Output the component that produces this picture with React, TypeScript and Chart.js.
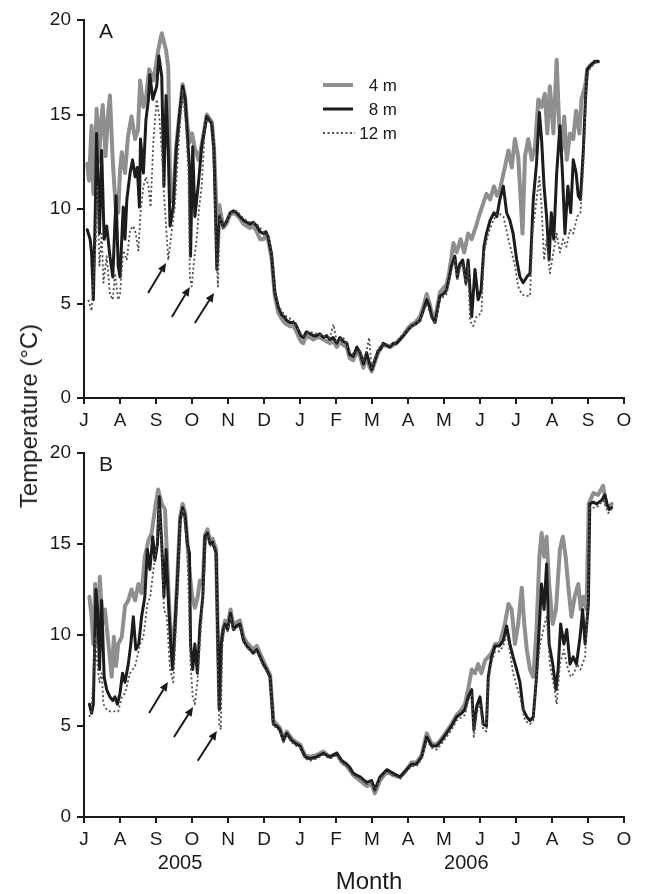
import React, { useEffect, useRef } from "react";
import { Chart, registerables } from "chart.js";

Chart.register(...registerables);

const FONT = "'Liberation Sans', Arial, Helvetica, sans-serif";
const INK = "#1a1a1a";

// x = months since 1 July 2005
const monthLabels = ["J", "A", "S", "O", "N", "D", "J", "F", "M", "A", "M", "J", "J", "A", "S", "O"];
const yTickStep = 5;
const seriesNames = ["4 m", "8 m", "12 m"];
const yearLabels = ["2005", "2006"];
const yearPositions = [2.67, 10.62];

// Panel A
const a4m: number[][] = [
  [0.09, 12.4], [0.14, 11.5], [0.21, 14.4], [0.26, 10.8], [0.3, 12.2], [0.35, 15.3], [0.42, 12.5], [0.47, 14.6],
  [0.52, 15.5], [0.6, 12.8], [0.66, 14.8], [0.72, 16.0], [0.8, 12.5], [0.88, 10.1], [0.95, 9.8], [1.0, 12.0],
  [1.05, 13.0], [1.14, 11.9], [1.22, 13.8], [1.32, 14.9], [1.42, 13.7], [1.5, 14.2], [1.56, 16.8], [1.65, 15.4],
  [1.73, 16.0], [1.81, 17.4], [1.92, 16.8], [2.0, 17.6], [2.06, 18.4], [2.16, 19.3], [2.28, 18.4], [2.34, 17.5],
  [2.4, 10.4], [2.48, 10.6], [2.56, 13.3], [2.65, 15.0], [2.74, 16.6], [2.81, 15.9], [2.87, 14.4], [2.93, 13.5],
  [3.0, 14.0], [3.08, 13.2], [3.18, 12.6], [3.27, 13.4], [3.41, 15.0], [3.55, 14.6], [3.61, 13.3], [3.69, 9.5],
  [3.76, 10.2], [3.87, 9.0], [3.95, 9.2], [4.06, 9.7], [4.15, 9.8], [4.24, 9.7], [4.33, 9.5], [4.43, 9.2],
  [4.52, 9.1], [4.61, 9.0], [4.7, 9.1], [4.8, 8.8], [4.89, 8.4], [4.98, 8.4], [5.05, 8.6], [5.12, 8.3],
  [5.21, 7.4], [5.3, 5.4], [5.4, 4.5], [5.49, 4.2], [5.56, 4.0], [5.63, 3.9], [5.72, 3.8], [5.81, 3.8],
  [5.88, 3.6], [5.95, 3.3], [6.02, 3.0], [6.09, 2.9], [6.18, 3.3], [6.28, 3.2], [6.37, 3.1], [6.46, 3.2],
  [6.55, 3.2], [6.65, 3.1], [6.74, 3.0], [6.83, 2.9], [6.92, 3.0], [7.02, 2.7], [7.11, 3.0], [7.2, 2.8],
  [7.3, 2.7], [7.38, 2.1], [7.48, 2.0], [7.58, 2.5], [7.67, 2.2], [7.76, 1.6], [7.85, 2.2], [7.92, 1.7],
  [7.99, 1.4], [8.08, 1.9], [8.17, 2.4], [8.31, 2.8], [8.5, 2.7], [8.68, 2.9], [8.87, 3.3], [9.0, 3.7],
  [9.1, 3.9], [9.2, 4.0], [9.33, 4.3], [9.42, 4.8], [9.52, 5.5], [9.6, 5.0], [9.66, 4.5], [9.75, 4.2],
  [9.89, 5.6], [9.98, 5.8], [10.07, 6.0], [10.14, 6.6], [10.21, 7.5], [10.26, 8.2], [10.35, 7.7], [10.46, 8.4],
  [10.56, 7.7], [10.67, 8.7], [10.77, 8.4], [10.89, 9.1], [11.0, 9.8], [11.09, 10.3], [11.18, 10.8], [11.28, 10.5],
  [11.39, 11.2], [11.47, 10.7], [11.55, 11.0], [11.69, 12.2], [11.79, 13.1], [11.88, 12.2], [11.97, 13.7], [12.06, 12.8],
  [12.11, 11.2], [12.18, 8.7], [12.25, 12.8], [12.34, 13.7], [12.44, 12.6], [12.53, 13.3], [12.62, 15.8], [12.71, 15.4],
  [12.8, 16.1], [12.87, 14.0], [12.94, 16.5], [13.04, 14.0], [13.13, 17.9], [13.2, 14.4], [13.27, 13.1], [13.34, 14.9],
  [13.41, 12.6], [13.5, 14.0], [13.59, 13.7], [13.67, 15.2], [13.76, 14.0], [13.82, 15.8], [13.92, 16.5], [13.98, 17.4],
  [14.07, 17.6], [14.19, 17.8], [14.28, 17.8],
];

const a8m: number[][] = [
  [0.09, 8.9], [0.17, 8.4], [0.21, 7.7], [0.26, 5.2], [0.31, 9.6], [0.35, 14.0], [0.43, 8.7], [0.49, 13.1],
  [0.56, 8.4], [0.63, 9.1], [0.72, 7.5], [0.8, 6.4], [0.89, 10.7], [0.95, 7.0], [1.0, 6.4], [1.09, 10.1],
  [1.14, 8.4], [1.19, 10.5], [1.28, 11.9], [1.35, 12.6], [1.42, 11.7], [1.48, 12.2], [1.54, 10.1], [1.57, 13.7],
  [1.65, 11.9], [1.72, 14.7], [1.79, 15.8], [1.83, 17.1], [1.91, 15.8], [2.02, 16.5], [2.08, 18.1], [2.16, 17.0],
  [2.22, 11.2], [2.28, 16.0], [2.34, 13.1], [2.39, 9.1], [2.48, 10.1], [2.56, 13.1], [2.65, 14.9], [2.74, 16.5],
  [2.81, 15.8], [2.87, 14.0], [2.93, 12.2], [2.96, 7.5], [3.02, 13.3], [3.08, 9.6], [3.18, 11.4], [3.27, 13.3],
  [3.41, 14.9], [3.55, 14.5], [3.61, 13.1], [3.69, 6.8], [3.76, 9.6], [3.87, 9.1], [3.95, 9.3], [4.06, 9.8],
  [4.15, 9.9], [4.24, 9.8], [4.33, 9.6], [4.43, 9.4], [4.52, 9.3], [4.61, 9.2], [4.7, 9.3], [4.8, 9.1],
  [4.89, 8.8], [4.98, 8.7], [5.05, 8.8], [5.12, 8.5], [5.21, 7.6], [5.3, 5.6], [5.4, 4.8], [5.49, 4.4],
  [5.56, 4.3], [5.63, 4.1], [5.72, 4.0], [5.81, 4.0], [5.88, 3.9], [5.95, 3.6], [6.02, 3.3], [6.09, 3.2],
  [6.18, 3.5], [6.28, 3.4], [6.37, 3.3], [6.46, 3.3], [6.55, 3.4], [6.65, 3.2], [6.74, 3.3], [6.83, 3.1],
  [6.92, 3.2], [7.02, 2.9], [7.11, 3.2], [7.2, 3.0], [7.3, 2.9], [7.38, 2.3], [7.48, 2.2], [7.58, 2.7],
  [7.67, 2.4], [7.76, 1.8], [7.85, 2.4], [7.92, 1.9], [7.99, 1.5], [8.08, 2.0], [8.17, 2.5], [8.24, 2.6],
  [8.31, 2.9], [8.4, 2.8], [8.5, 2.7], [8.59, 2.9], [8.68, 2.9], [8.78, 3.1], [8.87, 3.3], [9.0, 3.6],
  [9.1, 3.8], [9.2, 3.9], [9.33, 4.1], [9.42, 4.6], [9.52, 5.2], [9.6, 4.8], [9.66, 4.3], [9.75, 4.0],
  [9.89, 5.4], [9.98, 5.5], [10.07, 5.7], [10.14, 6.3], [10.21, 7.0], [10.3, 7.5], [10.37, 6.4], [10.44, 7.1],
  [10.52, 7.3], [10.61, 6.1], [10.67, 7.3], [10.77, 4.3], [10.86, 6.8], [10.95, 5.2], [11.03, 5.7], [11.11, 8.0],
  [11.18, 8.7], [11.28, 9.4], [11.39, 9.8], [11.47, 9.6], [11.55, 10.5], [11.65, 11.2], [11.74, 9.8], [11.83, 9.4],
  [11.92, 8.7], [12.02, 7.3], [12.11, 6.4], [12.2, 6.1], [12.3, 6.4], [12.39, 6.6], [12.48, 10.5], [12.57, 12.4],
  [12.65, 15.1], [12.71, 13.7], [12.78, 11.2], [12.85, 9.6], [12.92, 7.3], [12.98, 9.8], [13.05, 8.4], [13.13, 11.9],
  [13.22, 14.4], [13.29, 11.9], [13.36, 8.7], [13.44, 11.2], [13.52, 9.8], [13.59, 12.6], [13.67, 11.9], [13.73, 10.7],
  [13.79, 10.5], [13.87, 13.1], [13.93, 15.8], [13.98, 17.4], [14.07, 17.6], [14.19, 17.8], [14.28, 17.8],
];

const a12m: number[][] = [
  [0.12, 5.2], [0.21, 4.6], [0.27, 6.5], [0.33, 8.4], [0.37, 11.2], [0.43, 7.0], [0.49, 8.7], [0.54, 6.1],
  [0.63, 7.5], [0.72, 5.5], [0.8, 5.2], [0.86, 6.6], [0.95, 5.2], [1.0, 5.5], [1.09, 7.8], [1.19, 7.3],
  [1.28, 8.9], [1.37, 9.1], [1.44, 8.7], [1.51, 7.8], [1.57, 9.8], [1.65, 11.2], [1.72, 11.7], [1.79, 11.2],
  [1.85, 10.1], [1.93, 13.7], [2.02, 15.8], [2.09, 14.9], [2.16, 13.1], [2.22, 10.8], [2.28, 9.1], [2.34, 7.3],
  [2.43, 8.7], [2.52, 10.1], [2.65, 14.0], [2.74, 16.3], [2.83, 14.4], [2.9, 11.9], [2.94, 6.4], [2.99, 5.9],
  [3.06, 7.3], [3.13, 8.4], [3.2, 10.1], [3.27, 11.2], [3.36, 14.4], [3.45, 14.9], [3.59, 14.4], [3.66, 8.7],
  [3.72, 5.9], [3.78, 9.8], [3.87, 9.0], [3.95, 9.3], [4.06, 9.8], [4.24, 9.9], [4.43, 9.5], [4.61, 9.3],
  [4.8, 9.2], [4.98, 8.8], [5.12, 8.6], [5.21, 7.7], [5.3, 5.7], [5.4, 4.9], [5.49, 4.6], [5.63, 4.3],
  [5.81, 4.1], [5.95, 3.6], [6.09, 3.3], [6.28, 3.5], [6.46, 3.4], [6.65, 3.3], [6.83, 3.2], [6.93, 3.9],
  [7.02, 3.0], [7.2, 3.2], [7.38, 2.5], [7.48, 2.3], [7.67, 2.5], [7.76, 2.0], [7.85, 2.5], [7.92, 3.2],
  [7.99, 1.6], [8.08, 2.1], [8.17, 2.6], [8.31, 2.9], [8.5, 2.8], [8.68, 3.0], [8.87, 3.4], [9.0, 3.6],
  [9.2, 3.9], [9.33, 4.1], [9.42, 4.5], [9.52, 5.0], [9.66, 4.2], [9.75, 3.9], [9.89, 5.2], [10.07, 5.5],
  [10.21, 6.8], [10.3, 7.3], [10.37, 6.2], [10.44, 6.9], [10.52, 7.1], [10.61, 5.9], [10.67, 7.0], [10.72, 4.1],
  [10.81, 3.8], [10.9, 4.3], [11.04, 4.5], [11.11, 7.7], [11.23, 8.7], [11.37, 9.4], [11.51, 9.8], [11.65, 9.6],
  [11.79, 8.4], [11.88, 7.7], [11.97, 7.0], [12.06, 5.9], [12.16, 5.5], [12.25, 5.4], [12.39, 5.4], [12.46, 8.7],
  [12.57, 10.5], [12.65, 11.7], [12.71, 10.1], [12.78, 7.3], [12.85, 8.4], [12.94, 6.6], [13.04, 7.7], [13.13, 8.7],
  [13.22, 7.7], [13.31, 8.4], [13.4, 8.0], [13.5, 8.9], [13.59, 8.7], [13.7, 9.6], [13.79, 9.8], [13.87, 12.2],
  [13.96, 17.0], [14.07, 17.5], [14.19, 17.7], [14.28, 17.8],
];

// Panel B
const b4m: number[][] = [
  [0.15, 12.1], [0.21, 11.0], [0.26, 9.5], [0.31, 12.8], [0.37, 9.5], [0.44, 13.2], [0.51, 10.6], [0.58, 11.4],
  [0.68, 9.5], [0.77, 7.7], [0.83, 9.9], [0.89, 8.3], [0.95, 9.5], [1.05, 9.9], [1.14, 11.6], [1.23, 11.9],
  [1.32, 12.5], [1.42, 11.9], [1.51, 12.8], [1.6, 12.3], [1.69, 14.3], [1.79, 15.2], [1.88, 15.6], [1.97, 16.9],
  [2.06, 18.0], [2.16, 17.2], [2.25, 16.9], [2.31, 14.1], [2.38, 11.0], [2.46, 8.6], [2.53, 10.8], [2.59, 13.0],
  [2.67, 16.5], [2.74, 17.2], [2.81, 16.7], [2.87, 15.2], [2.93, 13.5], [3.0, 12.2], [3.08, 11.5], [3.15, 12.0],
  [3.22, 13.0], [3.3, 12.8], [3.36, 15.5], [3.43, 15.8], [3.5, 15.2], [3.57, 15.3], [3.67, 14.7], [3.71, 10.6],
  [3.76, 6.0], [3.81, 9.6], [3.87, 10.4], [3.92, 10.8], [3.99, 10.5], [4.07, 11.4], [4.15, 10.5], [4.24, 10.7],
  [4.33, 10.8], [4.43, 9.9], [4.52, 9.6], [4.61, 9.4], [4.7, 9.2], [4.8, 9.4], [4.89, 9.0], [4.98, 8.6],
  [5.07, 8.2], [5.17, 7.8], [5.26, 5.3], [5.35, 5.1], [5.44, 4.9], [5.54, 4.3], [5.63, 4.7], [5.77, 4.3],
  [5.9, 4.1], [6.0, 4.0], [6.14, 3.4], [6.28, 3.3], [6.46, 3.4], [6.65, 3.6], [6.83, 3.3], [7.02, 3.5],
  [7.16, 3.0], [7.3, 2.8], [7.48, 2.3], [7.67, 2.0], [7.85, 1.7], [7.99, 1.8], [8.08, 1.3], [8.22, 2.0],
  [8.41, 2.5], [8.59, 2.3], [8.78, 2.2], [8.96, 2.6], [9.1, 3.0], [9.24, 3.0], [9.38, 3.4], [9.52, 4.6],
  [9.66, 4.0], [9.8, 4.0], [9.93, 4.3], [10.07, 4.7], [10.21, 5.1], [10.35, 5.6], [10.49, 5.9], [10.58, 6.2],
  [10.67, 7.0], [10.77, 8.1], [10.86, 7.9], [10.95, 8.4], [11.04, 7.9], [11.14, 8.6], [11.23, 8.8], [11.32, 9.0],
  [11.42, 9.5], [11.55, 9.5], [11.69, 10.6], [11.79, 11.7], [11.88, 11.4], [11.97, 9.5], [12.06, 10.6], [12.16, 12.6],
  [12.23, 10.6], [12.3, 9.2], [12.39, 8.1], [12.48, 7.7], [12.57, 10.3], [12.65, 14.3], [12.71, 15.6], [12.78, 14.3],
  [12.85, 15.4], [12.92, 12.8], [13.02, 10.6], [13.11, 11.4], [13.22, 14.7], [13.3, 15.4], [13.38, 14.3], [13.46, 12.5],
  [13.54, 11.0], [13.63, 12.1], [13.73, 12.8], [13.8, 11.4], [13.87, 12.1], [13.96, 11.4], [14.02, 17.2], [14.15, 17.8],
  [14.28, 17.7], [14.42, 18.2], [14.5, 17.2], [14.59, 17.0], [14.66, 17.2],
];

const b8m: number[][] = [
  [0.15, 6.2], [0.21, 5.7], [0.26, 6.2], [0.33, 12.5], [0.38, 11.4], [0.43, 8.1], [0.49, 11.9], [0.56, 7.7],
  [0.63, 7.0], [0.72, 6.6], [0.8, 6.4], [0.86, 6.6], [0.93, 6.2], [1.0, 6.8], [1.07, 7.9], [1.14, 7.4],
  [1.23, 8.4], [1.3, 9.5], [1.37, 11.0], [1.44, 9.2], [1.52, 9.5], [1.6, 11.0], [1.69, 12.1], [1.76, 14.7],
  [1.83, 13.6], [1.91, 15.4], [1.97, 14.1], [2.04, 15.0], [2.09, 17.6], [2.16, 15.0], [2.22, 12.1], [2.28, 14.7],
  [2.34, 12.1], [2.41, 9.5], [2.46, 8.1], [2.53, 10.5], [2.59, 12.8], [2.67, 16.3], [2.74, 17.0], [2.81, 16.5],
  [2.87, 15.0], [2.93, 14.5], [2.96, 9.5], [3.02, 8.1], [3.08, 9.5], [3.15, 7.9], [3.22, 10.5], [3.3, 12.1],
  [3.36, 15.4], [3.43, 15.6], [3.5, 15.0], [3.57, 15.1], [3.67, 14.5], [3.71, 10.5], [3.76, 5.9], [3.81, 9.5],
  [3.87, 10.3], [3.92, 10.6], [3.99, 10.3], [4.07, 11.2], [4.15, 10.3], [4.24, 10.5], [4.33, 10.6], [4.43, 9.7],
  [4.52, 9.4], [4.61, 9.2], [4.7, 9.0], [4.8, 9.2], [4.89, 8.8], [4.98, 8.4], [5.07, 8.1], [5.17, 7.7],
  [5.26, 5.1], [5.35, 5.0], [5.44, 4.8], [5.54, 4.2], [5.63, 4.6], [5.77, 4.2], [5.9, 4.0], [6.0, 3.9],
  [6.14, 3.3], [6.28, 3.2], [6.46, 3.3], [6.65, 3.5], [6.83, 3.3], [7.02, 3.5], [7.16, 3.1], [7.3, 2.9],
  [7.39, 2.7], [7.48, 2.4], [7.57, 2.3], [7.67, 2.2], [7.85, 1.9], [7.99, 2.0], [8.08, 1.5], [8.22, 2.2],
  [8.41, 2.6], [8.59, 2.4], [8.78, 2.2], [8.96, 2.6], [9.1, 2.9], [9.24, 2.9], [9.38, 3.3], [9.52, 4.4],
  [9.66, 3.9], [9.8, 3.9], [9.93, 4.2], [10.07, 4.6], [10.21, 5.0], [10.35, 5.5], [10.49, 5.7], [10.58, 5.9],
  [10.67, 6.6], [10.77, 7.0], [10.83, 4.8], [10.91, 6.1], [11.0, 6.6], [11.09, 5.1], [11.18, 5.0], [11.23, 7.7],
  [11.32, 8.8], [11.42, 9.4], [11.54, 9.4], [11.65, 9.7], [11.74, 10.5], [11.83, 9.5], [11.92, 8.8], [12.02, 8.1],
  [12.11, 7.4], [12.2, 5.9], [12.3, 5.5], [12.39, 5.3], [12.48, 5.5], [12.57, 7.7], [12.65, 10.6], [12.71, 12.8],
  [12.78, 11.4], [12.85, 13.9], [12.92, 9.5], [13.02, 8.4], [13.11, 7.0], [13.17, 8.1], [13.24, 10.6], [13.33, 9.5],
  [13.41, 10.3], [13.5, 8.4], [13.59, 8.8], [13.68, 8.4], [13.78, 9.9], [13.85, 11.4], [13.92, 9.5], [14.01, 11.7],
  [14.05, 17.2], [14.15, 17.3], [14.24, 17.2], [14.38, 17.4], [14.47, 17.7], [14.53, 17.2], [14.59, 16.9], [14.66, 17.0],
];

const b12m: number[][] = [
  [0.15, 5.5], [0.21, 5.9], [0.31, 9.9], [0.37, 8.4], [0.43, 7.4], [0.49, 7.9], [0.54, 6.2], [0.63, 5.9],
  [0.72, 5.8], [0.81, 5.8], [0.95, 5.8], [1.05, 6.6], [1.14, 6.8], [1.28, 7.9], [1.42, 8.3], [1.56, 9.5],
  [1.65, 9.9], [1.76, 11.7], [1.84, 12.1], [1.93, 13.6], [2.0, 14.7], [2.09, 16.9], [2.16, 14.7], [2.22, 11.4],
  [2.3, 11.0], [2.39, 8.1], [2.48, 7.4], [2.57, 11.0], [2.67, 16.1], [2.76, 16.9], [2.87, 14.7], [2.96, 8.4],
  [3.02, 6.6], [3.08, 6.2], [3.15, 7.4], [3.22, 9.5], [3.32, 12.5], [3.38, 15.2], [3.45, 15.5], [3.52, 14.9],
  [3.6, 15.0], [3.67, 14.3], [3.72, 8.0], [3.76, 5.1], [3.8, 4.8], [3.84, 9.3], [3.9, 10.4], [3.99, 10.2],
  [4.07, 11.0], [4.15, 10.2], [4.24, 10.4], [4.33, 10.5], [4.43, 9.6], [4.61, 9.1], [4.8, 9.1], [4.98, 8.3],
  [5.07, 8.0], [5.17, 7.6], [5.26, 5.0], [5.35, 4.9], [5.44, 4.7], [5.54, 4.1], [5.63, 4.5], [5.77, 4.1],
  [5.9, 3.9], [6.0, 3.8], [6.14, 3.2], [6.28, 3.1], [6.46, 3.2], [6.65, 3.4], [6.83, 3.2], [7.02, 3.4],
  [7.16, 3.0], [7.3, 2.8], [7.48, 2.3], [7.67, 2.1], [7.85, 1.8], [7.99, 1.9], [8.08, 1.4], [8.22, 2.1],
  [8.41, 2.5], [8.59, 2.3], [8.78, 2.1], [8.96, 2.5], [9.1, 2.8], [9.24, 2.8], [9.38, 3.2], [9.52, 4.2],
  [9.66, 3.8], [9.8, 3.7], [9.93, 4.0], [10.07, 4.4], [10.21, 4.8], [10.35, 5.3], [10.49, 5.5], [10.58, 5.6],
  [10.67, 6.4], [10.77, 6.7], [10.83, 4.4], [10.91, 5.7], [11.0, 6.2], [11.09, 4.8], [11.18, 4.7], [11.23, 7.4],
  [11.32, 8.5], [11.42, 9.1], [11.54, 9.1], [11.65, 9.4], [11.74, 10.1], [11.83, 9.1], [11.92, 7.9], [12.02, 7.2],
  [12.11, 6.6], [12.25, 5.3], [12.39, 5.1], [12.48, 5.3], [12.57, 7.7], [12.67, 9.5], [12.76, 10.3], [12.85, 11.0],
  [12.94, 8.4], [13.04, 7.4], [13.13, 6.2], [13.22, 8.4], [13.33, 9.2], [13.42, 8.3], [13.52, 7.7], [13.61, 7.9],
  [13.7, 8.4], [13.79, 8.1], [13.92, 8.8], [14.0, 12.1], [14.05, 17.0], [14.24, 17.0], [14.42, 17.4], [14.56, 16.7],
  [14.66, 16.9],
];

// arrows: [x tail, y tail, x head, y head]
const arrowsA: number[][] = [[1.78, 5.56, 2.28, 7.14], [2.44, 4.29, 2.94, 5.87], [3.08, 3.97, 3.61, 5.56]];
const arrowsB: number[][] = [[1.81, 5.71, 2.33, 7.42], [2.5, 4.4, 3.03, 6.04], [3.16, 3.09, 3.69, 4.73]];

const STYLES = [
  { color: "#8f8f8f", width: 4, dash: [] as number[], order: 3 },
  { color: "#1c1c1c", width: 3, dash: [] as number[], order: 2 },
  { color: "#4e4e4e", width: 1.8, dash: [2, 2.5], order: 1 },
];

const overlayPlugin = {
  id: "overlay",
  afterDraw(chart: any) {
    const o = chart.options.plugins.overlay;
    if (!o) return;
    const { ctx, chartArea: ca } = chart;
    const xs = chart.scales.x;
    const ys = chart.scales.y;
    ctx.save();
    ctx.fillStyle = INK;
    ctx.strokeStyle = INK;
    // panel letter
    ctx.font = `21px ${FONT}`;
    ctx.textAlign = "center";
    ctx.textBaseline = "middle";
    ctx.fillText(o.letter, ca.left + 22, ca.top + 12);
    // arrows
    for (const [x0, y0, x1, y1] of o.arrows as number[][]) {
      const px0 = xs.getPixelForValue(x0);
      const py0 = ys.getPixelForValue(y0);
      const px1 = xs.getPixelForValue(x1);
      const py1 = ys.getPixelForValue(y1);
      const ang = Math.atan2(py1 - py0, px1 - px0);
      const hl = 9;
      const hw = 4;
      const bx = px1 - hl * Math.cos(ang);
      const by = py1 - hl * Math.sin(ang);
      ctx.lineWidth = 2;
      ctx.beginPath();
      ctx.moveTo(px0, py0);
      ctx.lineTo(bx, by);
      ctx.stroke();
      ctx.beginPath();
      ctx.moveTo(px1, py1);
      ctx.lineTo(bx + hw * Math.sin(ang), by - hw * Math.cos(ang));
      ctx.lineTo(bx - hw * Math.sin(ang), by + hw * Math.cos(ang));
      ctx.closePath();
      ctx.fill();
    }
    // legend
    if (o.legend) {
      ctx.font = `17px ${FONT}`;
      ctx.textAlign = "right";
      ctx.textBaseline = "middle";
      seriesNames.forEach((name, i) => {
        const st = STYLES[i];
        const yy = ca.top + 65 + i * 24;
        ctx.save();
        ctx.strokeStyle = st.color;
        ctx.lineWidth = st.width;
        ctx.setLineDash(st.dash);
        ctx.beginPath();
        ctx.moveTo(ca.left + 239, yy);
        ctx.lineTo(ca.left + (i === 2 ? 271 : 269), yy);
        ctx.stroke();
        ctx.restore();
        ctx.fillStyle = INK;
        ctx.fillText(name, ca.left + 313, yy + 1);
      });
    }
    // years and axis title
    if (o.years) {
      ctx.font = `20px ${FONT}`;
      ctx.textAlign = "center";
      ctx.textBaseline = "middle";
      yearLabels.forEach((t, i) => {
        ctx.fillText(t, xs.getPixelForValue(yearPositions[i]), ca.bottom + 46);
      });
      ctx.font = `24px ${FONT}`;
      ctx.fillText("Month", (ca.left + ca.right) / 2 + 15, ca.bottom + 65);
    }
    ctx.restore();
  },
};

function buildConfig(series: number[][][], letter: string, arrows: number[][], legend: boolean, years: boolean, topPad: number, xHeight: number): any {
  return {
    type: "line",
    data: {
      datasets: series.map((s, i) => ({
        label: seriesNames[i],
        data: s.map(([x, y]) => ({ x, y })),
        borderColor: STYLES[i].color,
        borderWidth: STYLES[i].width,
        borderDash: STYLES[i].dash,
        borderJoinStyle: "round",
        borderCapStyle: i === 2 ? "butt" : "round",
        pointRadius: 0,
        tension: 0,
        fill: false,
        order: STYLES[i].order,
      })),
    },
    options: {
      animation: false,
      responsive: false,
      maintainAspectRatio: false,
      devicePixelRatio: 1,
      layout: { padding: { top: topPad, right: 21, left: 0, bottom: 0 } },
      plugins: {
        legend: { display: false },
        tooltip: { enabled: false },
        overlay: { letter, arrows, legend, years },
      },
      scales: {
        x: {
          type: "linear",
          min: 0,
          max: monthLabels.length - 1,
          afterBuildTicks: (s: any) => {
            s.ticks = monthLabels.map((_, i) => ({ value: i }));
          },
          afterFit: (s: any) => {
            s.height = xHeight;
          },
          ticks: {
            autoSkip: false,
            maxRotation: 0,
            padding: 5,
            color: INK,
            font: { family: FONT, size: 19 },
            callback: (v: any) => monthLabels[Math.round(Number(v))] ?? "",
          },
          grid: { drawOnChartArea: false, drawTicks: true, tickLength: 6, color: INK, lineWidth: 2 },
          border: { display: true, color: INK, width: 2 },
        },
        y: {
          min: 0,
          max: 20,
          afterFit: (s: any) => {
            s.width = 84;
          },
          ticks: {
            stepSize: yTickStep,
            padding: 6,
            color: INK,
            font: { family: FONT, size: 19 },
          },
          grid: { drawOnChartArea: false, drawTicks: true, tickLength: 7, color: INK, lineWidth: 2 },
          border: { display: true, color: INK, width: 2 },
        },
      },
    },
    plugins: [overlayPlugin],
  };
}

export default function App() {
  const refA = useRef<HTMLCanvasElement | null>(null);
  const refB = useRef<HTMLCanvasElement | null>(null);

  useEffect(() => {
    document.body.style.margin = "0";
    const cA = new Chart(refA.current as HTMLCanvasElement, buildConfig([a4m, a8m, a12m], "A", arrowsA, true, false, 20, 32));
    const cB = new Chart(refB.current as HTMLCanvasElement, buildConfig([b4m, b8m, b12m], "B", arrowsB, false, true, 23, 77));
    return () => {
      cA.destroy();
      cB.destroy();
    };
  }, []);

  return (
    <div style={{ position: "absolute", left: 0, top: 0, width: 645, height: 894, background: "#fff", overflow: "hidden" }}>
      <canvas ref={refA} width={645} height={430} style={{ position: "absolute", left: 0, top: 0, width: 645, height: 430 }} />
      <canvas ref={refB} width={645} height={464} style={{ position: "absolute", left: 0, top: 430, width: 645, height: 464 }} />
      <div
        style={{
          position: "absolute",
          left: 29,
          top: 416,
          transform: "translate(-50%, -50%) rotate(-90deg)",
          whiteSpace: "nowrap",
          fontFamily: FONT,
          fontSize: 24,
          lineHeight: 1,
          color: INK,
        }}
      >
        Temperature (°C)
      </div>
    </div>
  );
}
